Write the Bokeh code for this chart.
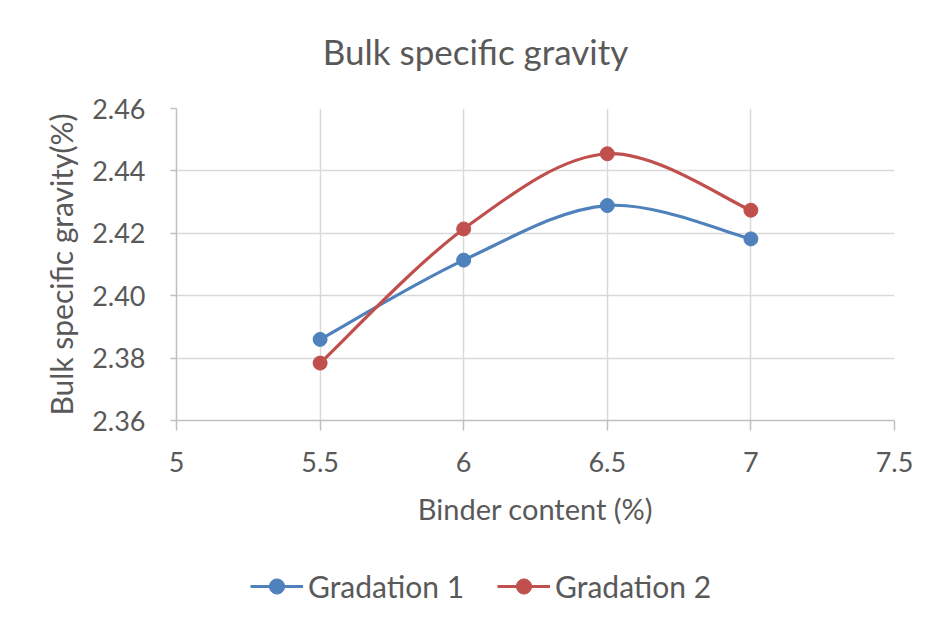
from bokeh.plotting import figure
from bokeh.layouts import column
from bokeh.models import (Legend, LegendItem, FixedTicker, NumeralTickFormatter,
                          ColumnDataSource, Range1d, Label)
from bokeh.embed import file_html
from bokeh.resources import INLINE

# ---- data ----
binder = [5.5, 6.0, 6.5, 7.0]
gradation1 = [2.386, 2.4114, 2.4289, 2.4182]
gradation2 = [2.3784, 2.4214, 2.4455, 2.4274]
series_names = ["Gradation 1", "Gradation 2"]
x_ticks = [5, 5.5, 6, 6.5, 7, 7.5]
y_ticks = [2.36, 2.38, 2.40, 2.42, 2.44, 2.46]
title_text = "Bulk specific gravity"

BLUE = "#4F81BD"
RED = "#C0504D"
TEXT = "#595959"
GRID = "#D9D9D9"
AXIS = "#BFBFBF"
FONT = "Lato"
W = 925


def smooth_segments(xs, ys):
    """Catmull-Rom style Bezier control points (Excel-like smoothing)."""
    n = len(xs)
    d = dict(x0=[], y0=[], x1=[], y1=[], cx0=[], cy0=[], cx1=[], cy1=[])
    for i in range(n - 1):
        p0 = (xs[i - 1], ys[i - 1]) if i > 0 else (xs[i], ys[i])
        p1 = (xs[i], ys[i])
        p2 = (xs[i + 1], ys[i + 1])
        p3 = (xs[i + 2], ys[i + 2]) if i + 2 < n else (xs[i + 1], ys[i + 1])
        d["x0"].append(p1[0]); d["y0"].append(p1[1])
        d["x1"].append(p2[0]); d["y1"].append(p2[1])
        d["cx0"].append(p1[0] + (p2[0] - p0[0]) / 6.0)
        d["cy0"].append(p1[1] + (p2[1] - p0[1]) / 6.0)
        d["cx1"].append(p2[0] - (p3[0] - p1[0]) / 6.0)
        d["cy1"].append(p2[1] - (p3[1] - p1[1]) / 6.0)
    return ColumnDataSource(d)


def strip(height, xr, yr):
    f = figure(width=W, height=height, output_backend="svg", toolbar_location=None,
               x_range=xr, y_range=yr,
               min_border_left=0, min_border_right=0, min_border_top=0, min_border_bottom=0)
    f.axis.visible = False
    f.grid.visible = False
    f.outline_line_color = None
    f.background_fill_color = "white"
    f.border_fill_color = "white"
    return f


# ---- title strip (frame aligned with the chart frame: x in page pixels) ----
top = strip(80, Range1d(176, 894), Range1d(80, 0))
top.add_layout(Label(x=475, y=50, text=title_text, text_align="center",
                     text_baseline="middle", text_font=FONT, text_font_size="35px",
                     text_color=TEXT))

# ---- main chart ----
p = figure(width=W, height=465, output_backend="svg", toolbar_location=None,
           x_range=Range1d(5, 7.5), y_range=Range1d(2.36, 2.46),
           min_border_left=176, min_border_right=31,
           min_border_top=28, min_border_bottom=125)
p.outline_line_color = None
p.background_fill_color = "white"
p.border_fill_color = "white"

for ax in (p.xaxis[0], p.yaxis[0]):
    ax.axis_line_color = AXIS
    ax.axis_line_width = 1.5
    ax.major_tick_line_color = AXIS
    ax.major_tick_line_width = 1.5
    ax.major_tick_in = 0
    ax.minor_tick_line_color = None
    ax.major_label_text_font = FONT
    ax.major_label_text_font_size = "27px"
    ax.major_label_text_color = TEXT
    ax.axis_label_text_font = FONT
    ax.axis_label_text_font_style = "normal"
    ax.axis_label_text_color = TEXT

p.xaxis.ticker = FixedTicker(ticks=x_ticks)
p.xaxis.major_tick_out = 10
p.xaxis.major_label_standoff = 21
p.xaxis.axis_label = "Binder content (%)"
p.xaxis.axis_label_standoff = 16
p.xaxis.axis_label_text_font_size = "29px"

p.yaxis.ticker = FixedTicker(ticks=y_ticks)
p.yaxis.formatter = NumeralTickFormatter(format="0.00")
p.yaxis.major_tick_out = 6
p.yaxis.major_label_standoff = 25
p.yaxis.axis_label = "Bulk specific gravity(%)"
p.yaxis.axis_label_standoff = 10
p.yaxis.axis_label_text_font_size = "30px"

p.xgrid.ticker = FixedTicker(ticks=x_ticks)
p.ygrid.ticker = FixedTicker(ticks=y_ticks)
for g in (p.xgrid[0], p.ygrid[0]):
    g.grid_line_color = GRID
    g.grid_line_width = 1.5

for ys, col in zip([gradation1, gradation2], [BLUE, RED]):
    src = smooth_segments(binder, ys)
    p.bezier(x0="x0", y0="y0", x1="x1", y1="y1", cx0="cx0", cy0="cy0",
             cx1="cx1", cy1="cy1", source=src, line_color=col, line_width=3.2)
    p.scatter(binder, ys, size=14, fill_color=col, line_color=col, marker="circle")

# ---- legend strip below the chart ----
lg = strip(80, Range1d(0, 1), Range1d(0, 1))
items = []
for name, col in zip(series_names, [BLUE, RED]):
    # placeholder renderers outside the visible range, used only for legend glyphs
    ln = lg.line(x=[-10, -9], y=[-10, -10], line_color=col, line_width=3.2)
    sc = lg.scatter(x=[-10], y=[-10], size=14, fill_color=col, line_color=col, marker="circle")
    items.append(LegendItem(label=name, renderers=[ln, sc]))

legend = Legend(items=items, orientation="horizontal", location=(74, 20),
                glyph_width=53, glyph_height=38, label_standoff=5, spacing=33,
                padding=0, margin=0, border_line_color=None,
                background_fill_alpha=0,
                label_text_font=FONT, label_text_font_size="30px",
                label_text_color=TEXT)
lg.add_layout(legend, "center")

layout = column(top, p, lg, spacing=0)
open("out.html", "w").write(file_html(layout, INLINE))
